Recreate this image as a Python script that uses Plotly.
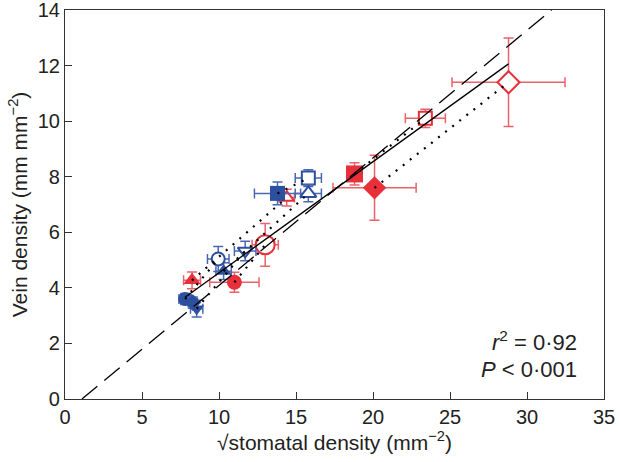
import plotly.graph_objects as go

# ---- data ----
species_color = ["red", "red", "red", "red", "blue", "blue", "blue", "blue", "blue"]
species_symbol = ["triangle-up", "circle", "square", "diamond",
                  "square", "triangle-up", "circle", "triangle-down", "diamond"]
# filled markers
fill_x = [8.25, 11.0, 18.8, 20.1, 13.8, 10.3, 7.8, 8.55, 8.3]
fill_y = [4.27, 4.2, 8.1, 7.6, 7.4, 4.6, 3.6, 3.25, 3.47]
fill_ex = [0.55, 1.6, 0.3, 2.7, 1.5, 0.5, 0.4, 0.4, 0.3]
fill_ey = [0.3, 0.36, 0.4, 1.17, 0.41, 0.3, 0.2, 0.3, 0.2]
# open markers
open_x = [14.4, 13.0, 23.4, 28.8, 15.8, 15.8, 9.95, 11.7, None]
open_y = [7.25, 5.55, 10.1, 11.4, 7.95, 7.4, 5.04, 5.33, None]
open_ex = [0.5, 0.85, 1.3, 3.67, 0.85, 0.85, 0.7, 0.7, None]
open_ey = [0.3, 0.77, 0.33, 1.59, 0.3, 0.3, 0.45, 0.35, None]

# regression lines
solid_x = [7.8, 28.8]
solid_y = [0.40 * 7.8 + 0.54, 0.40 * 28.8 + 0.54]
dash_x = [1.1, 31.6]
dash_y = [0.0, 14.0]

x_ticks = [0, 5, 10, 15, 20, 25, 30, 35]
y_ticks = [0, 2, 4, 6, 8, 10, 12, 14]

# ---- styles ----
COL = {"red": "#e8303a", "blue": "#2d4f9f"}
ERR = {"red": "#e8636b", "blue": "#4a68b0"}
FILL_SIZE = [15, 15, 17, 18, 15, 14, 14, 13, 13]
OPEN_SIZE = [13, 19, 13, 17, 13, 14, 13, 13, 13]
FONT = "Liberation Sans, Arial, sans-serif"
INK = "#222222"

fig = go.Figure()

for i in range(len(species_color)):
    c = species_color[i]
    s = species_symbol[i]
    fig.add_trace(go.Scatter(
        x=[fill_x[i]], y=[fill_y[i]], mode="markers",
        marker=dict(symbol=s, size=FILL_SIZE[i], color=COL[c], line=dict(width=0)),
        error_x=dict(type="data", array=[fill_ex[i]], color=ERR[c], thickness=1.5, width=5),
        error_y=dict(type="data", array=[fill_ey[i]], color=ERR[c], thickness=1.5, width=5),
        showlegend=False, hoverinfo="skip"))
    if open_x[i] is not None:
        fig.add_trace(go.Scatter(
            x=[open_x[i]], y=[open_y[i]], mode="markers",
            marker=dict(symbol=s, size=OPEN_SIZE[i], color="white", line=dict(width=2, color=COL[c])),
            error_x=dict(type="data", array=[open_ex[i]], color=ERR[c], thickness=1.5, width=5),
            error_y=dict(type="data", array=[open_ey[i]], color=ERR[c], thickness=1.5, width=5),
            showlegend=False, hoverinfo="skip"))

for i in range(len(species_color)):
    if open_x[i] is None:
        continue
    fig.add_trace(go.Scatter(
        x=[fill_x[i], open_x[i]], y=[fill_y[i], open_y[i]], mode="lines",
        line=dict(color="black", width=2.2, dash="2px,7px"),
        showlegend=False, hoverinfo="skip"))

fig.add_trace(go.Scatter(x=solid_x, y=solid_y, mode="lines",
                         line=dict(color="black", width=1.3),
                         showlegend=False, hoverinfo="skip"))
fig.add_trace(go.Scatter(x=dash_x, y=dash_y, mode="lines",
                         line=dict(color="black", width=1.3, dash="20px,9px"),
                         showlegend=False, hoverinfo="skip"))

axis_common = dict(showline=True, linecolor="#333333", linewidth=1.2, mirror=True,
                   ticks="inside", ticklen=7, tickcolor="#333333", tickwidth=1.2,
                   showgrid=False, zeroline=False, automargin=False,
                   ticklabeloverflow="allow",
                   tickfont=dict(family=FONT, size=20, color=INK))

fig.update_xaxes(range=[0, 35], tickvals=x_ticks,
                 title=dict(text="\u221astomatal density (mm<sup>\u22122</sup>)",
                            font=dict(family=FONT, size=21, color=INK), standoff=4),
                 **axis_common)
fig.update_yaxes(range=[0, 14], tickvals=y_ticks,
                 title=dict(text="Vein density (mm mm<sup>\u22122</sup>)",
                            font=dict(family=FONT, size=21, color=INK), standoff=4),
                 **axis_common)

fig.add_annotation(x=0.953, y=0.148, xref="paper", yref="paper", xanchor="right", yanchor="middle",
                   text="<i>r</i><sup>2</sup> = 0\u00b792", showarrow=False, align="right",
                   font=dict(family=FONT, size=22, color=INK))
fig.add_annotation(x=0.953, y=0.076, xref="paper", yref="paper", xanchor="right", yanchor="middle",
                   text="<i>P</i> < 0\u00b7001", showarrow=False, align="right",
                   font=dict(family=FONT, size=22, color=INK))

fig.update_layout(width=620, height=462, plot_bgcolor="white", paper_bgcolor="white",
                  font=dict(family=FONT, size=21, color=INK),
                  margin=dict(l=65, r=16, t=10, b=63))

fig.write_html("out.html", config={"displayModeBar": False},
               post_script="document.body.style.margin='0';")
